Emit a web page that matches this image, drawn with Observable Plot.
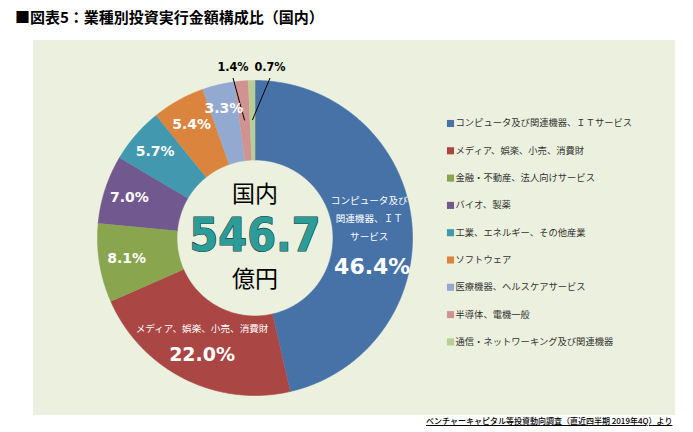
<!DOCTYPE html>
<html><head><meta charset="utf-8">
<script src="https://cdn.jsdelivr.net/npm/d3@7"></script>
<script src="https://cdn.jsdelivr.net/npm/@observablehq/plot@0.6"></script>
<style>
body{margin:0;background:#fff;font-family:"Noto Sans CJK JP",sans-serif;}
#wrap{position:relative;width:693px;height:432px;overflow:hidden;}
#title{position:absolute;left:15px;top:6px;font-size:15px;font-weight:bold;color:#000;white-space:nowrap;}
#chart{position:absolute;left:33px;top:40px;}
#foot{position:absolute;left:426px;top:415px;font-size:8px;font-weight:500;color:#000;text-decoration:underline;white-space:nowrap;}
</style></head>
<body>
<div id="wrap">
<div id="title">■図表5：業種別投資実行金額構成比（国内）</div>
<div id="chart"></div>
<div id="foot">ベンチャーキャピタル等投資動向調査（直近四半期 2019年4Q）より</div>
</div>
<script>
// ---- data ----
const categories = [
  "コンピュータ及び関連機器、ＩＴサービス",
  "メディア、娯楽、小売、消費財",
  "金融・不動産、法人向けサービス",
  "バイオ、製薬",
  "工業、エネルギー、その他産業",
  "ソフトウェア",
  "医療機器、ヘルスケアサービス",
  "半導体、電機一般",
  "通信・ネットワーキング及び関連機器"
];
const shares = [46.4, 22.0, 8.1, 7.0, 5.7, 5.4, 3.3, 1.4, 0.7];
const colors = ["#4672A8", "#AA4643", "#89A54E", "#71588F", "#4198AF", "#DB843D", "#93A9CF", "#D19392", "#B9CD96"];
const sliceNames = [["コンピュータ及び", "関連機器、ＩＴ", "サービス"], ["メディア、娯楽、小売、消費財"], [], [], [], [], [], [], []];
const centerLines = ["国内", "546.7", "億円"];

// ---- layout (styling only) ----
const W = 642, H = 375;
const cx = 221.5, cy = 197.5, R0 = 78, R1 = 157.5;
const bg = "#EBF1DE";
const jp = "'Noto Sans CJK JP', sans-serif";
const num = "'DejaVu Sans', Verdana, sans-serif";
const numC = "'DejaVu Sans Condensed', 'DejaVu Sans', sans-serif";
const labelR = [118, 118, 130, 132, 132, 130, 133, 118, 118];
const nameDx = [-3, 0];
const nameDy = [[-24, -6, 12], [-15]];
const valueDy = [42, 11, 0, 0, 0, 0, 0, 0, 0];
const valueSize = [22, 19, 14, 14, 14, 14, 14, 12.5, 12.5];
const outside = {7: -22, 8: 15}; // horizontal shift of outside labels
const legendX = 417, legendY0 = 83, legendStep = 27.3;

const arcs = d3.pie().sort(null).value(d => d)(shares);
const pt = (r, a) => ({x: cx + r * Math.sin(a), y: cy - r * Math.cos(a)});

const poly = [];
arcs.forEach((a, i) => {
  const n = Math.max(3, Math.ceil((a.endAngle - a.startAngle) * 90));
  for (let k = 0; k <= n; k++) poly.push({...pt(R1, a.startAngle + (a.endAngle - a.startAngle) * k / n), cat: categories[i]});
  for (let k = n; k >= 0; k--) poly.push({...pt(R0, a.startAngle + (a.endAngle - a.startAngle) * k / n), cat: categories[i]});
});

const nameLabels = [], valueLabels = [], outLabels = [], leaders = [];
arcs.forEach((a, i) => {
  const mid = (a.startAngle + a.endAngle) / 2;
  const txt = shares[i].toFixed(1) + "%";
  if (i in outside) {
    const p0 = pt(labelR[i], mid);
    const top = {x: cx + outside[i], y: cy - 160};
    leaders.push({x1: p0.x, y1: p0.y, x2: top.x, y2: top.y});
    outLabels.push({x: top.x, y: top.y - 11, text: txt, size: valueSize[i]});
  } else {
    const p = pt(labelR[i], mid);
    sliceNames[i].forEach((s, k) => nameLabels.push({x: p.x + nameDx[i], y: p.y + nameDy[i][k], text: s}));
    valueLabels.push({x: p.x, y: p.y + valueDy[i], text: txt, size: valueSize[i]});
  }
});

const valueMarks = [...new Set(valueLabels.map(d => d.size))].map(s =>
  Plot.text(valueLabels.filter(d => d.size === s), {x: "x", y: "y", text: "text", fill: "white", fontSize: s, fontWeight: "bold", fontFamily: num})
);

const chart = Plot.plot({
  width: W, height: H, margin: 0,
  x: {domain: [0, W], range: [0, W], axis: null},
  y: {domain: [0, H], range: [0, H], axis: null},
  color: {domain: categories, range: colors},
  style: {background: bg, fontFamily: jp, overflow: "visible"},
  marks: [
    Plot.line(poly, {x: "x", y: "y", z: "cat", fill: "cat", stroke: "cat", strokeWidth: 0.6, curve: "linear"}),
    Plot.link(leaders, {x1: "x1", y1: "y1", x2: "x2", y2: "y2", stroke: "black", strokeWidth: 1}),
    ...valueMarks,
    Plot.text(nameLabels, {x: "x", y: "y", text: "text", fill: "white", fontSize: 9.6, fontFamily: jp}),
    Plot.text(outLabels, {x: "x", y: "y", text: "text", fill: "black", fontSize: 12.5, fontWeight: "bold", fontFamily: numC}),
    Plot.text([centerLines[0]], {x: () => cx, y: () => cy - 43, text: d => d, fontSize: 23, fill: "black", fontFamily: jp}),
    Plot.text([centerLines[1]], {x: () => cx, y: () => cy - 2, text: d => d, fontSize: 46, fontWeight: "bold", fill: "#2B9C97", stroke: "#173d3c", strokeWidth: 1.2, paintOrder: "stroke", fontFamily: numC}),
    Plot.text([centerLines[2]], {x: () => cx, y: () => cy + 42, text: d => d, fontSize: 23, fill: "black", fontFamily: jp}),
    Plot.dot(categories, {x: () => legendX, y: (d, i) => legendY0 + i * legendStep, fill: d => d, symbol: "square", r: 4}),
    Plot.text(categories, {x: () => legendX + 5, y: (d, i) => legendY0 + i * legendStep, text: d => d, textAnchor: "start", fontSize: 9.3, fill: "#333", fontFamily: jp})
  ]
});
document.getElementById("chart").appendChild(chart);
</script>
</body></html>
